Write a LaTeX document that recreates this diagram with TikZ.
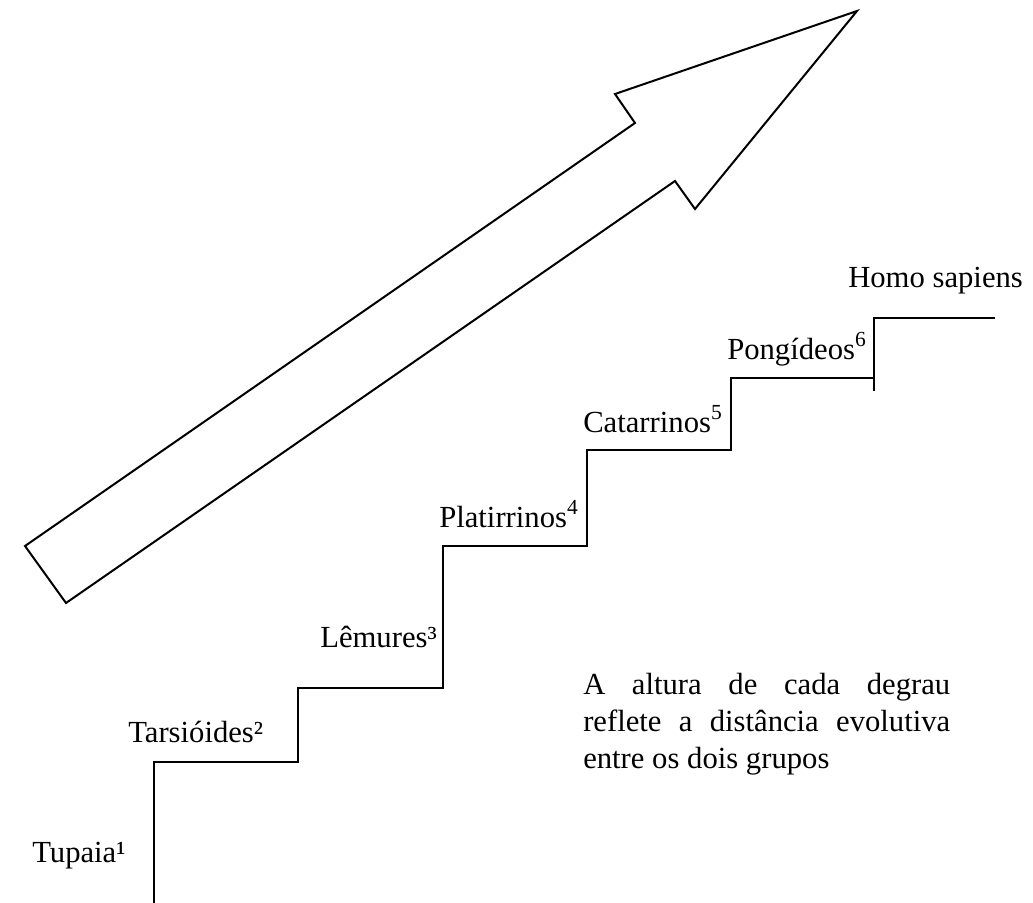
\documentclass[tikz,border=0pt]{standalone}
\usepackage{fontspec}
\setmainfont{Liberation Serif}
\begin{document}
\begin{tikzpicture}[x=0.75pt,y=-0.75pt,
  outline/.style={line width=1.5pt,line join=miter},
  lbl/.style={anchor=base west,inner sep=0pt,font=\fontsize{23}{27.75}\selectfont}]
\useasboundingbox (0,0) rectangle (1033,903);

% big arrow pointing up and to the right
\draw[outline] (25,546) -- (635,123) -- (615,94) -- (857,11)
  -- (695,209) -- (675,181) -- (66,603) -- cycle;

% staircase
\draw[outline] (154,903) -- (154,762) -- (298,762) -- (298,688)
  -- (443,688) -- (443,546) -- (587,546) -- (587,450)
  -- (731,450) -- (731,378) -- (874,378);
\draw[outline] (874,391) -- (874,318) -- (995,318);

% step labels
\node[lbl] (tupaia) at (32,862) {Tupaia¹};
\node[lbl] (tarsio) at (128,742) {Tarsióides²};
\node[lbl] (lemur) at (320,647) {Lêmures³};
\node[lbl] (plati) at (439,527) {Platirrinos\textsuperscript{4}};
\node[lbl] (catar) at (583,432) {Catarrinos\textsuperscript{5}};
\node[lbl] (pongi) at (727,359) {Pongídeos\textsuperscript{6}};
\node[lbl] (homo) at (848,287) {Homo sapiens};

% explanatory note, justified
\node[lbl] (note1) at (583,694) {\makebox[275.25pt][s]{A altura de cada degrau}};
\node[lbl] (note2) at (583,731) {\makebox[275.25pt][s]{reflete a distância evolutiva}};
\node[lbl] (note3) at (583,768) {entre os dois grupos};
\end{tikzpicture}
\end{document}
